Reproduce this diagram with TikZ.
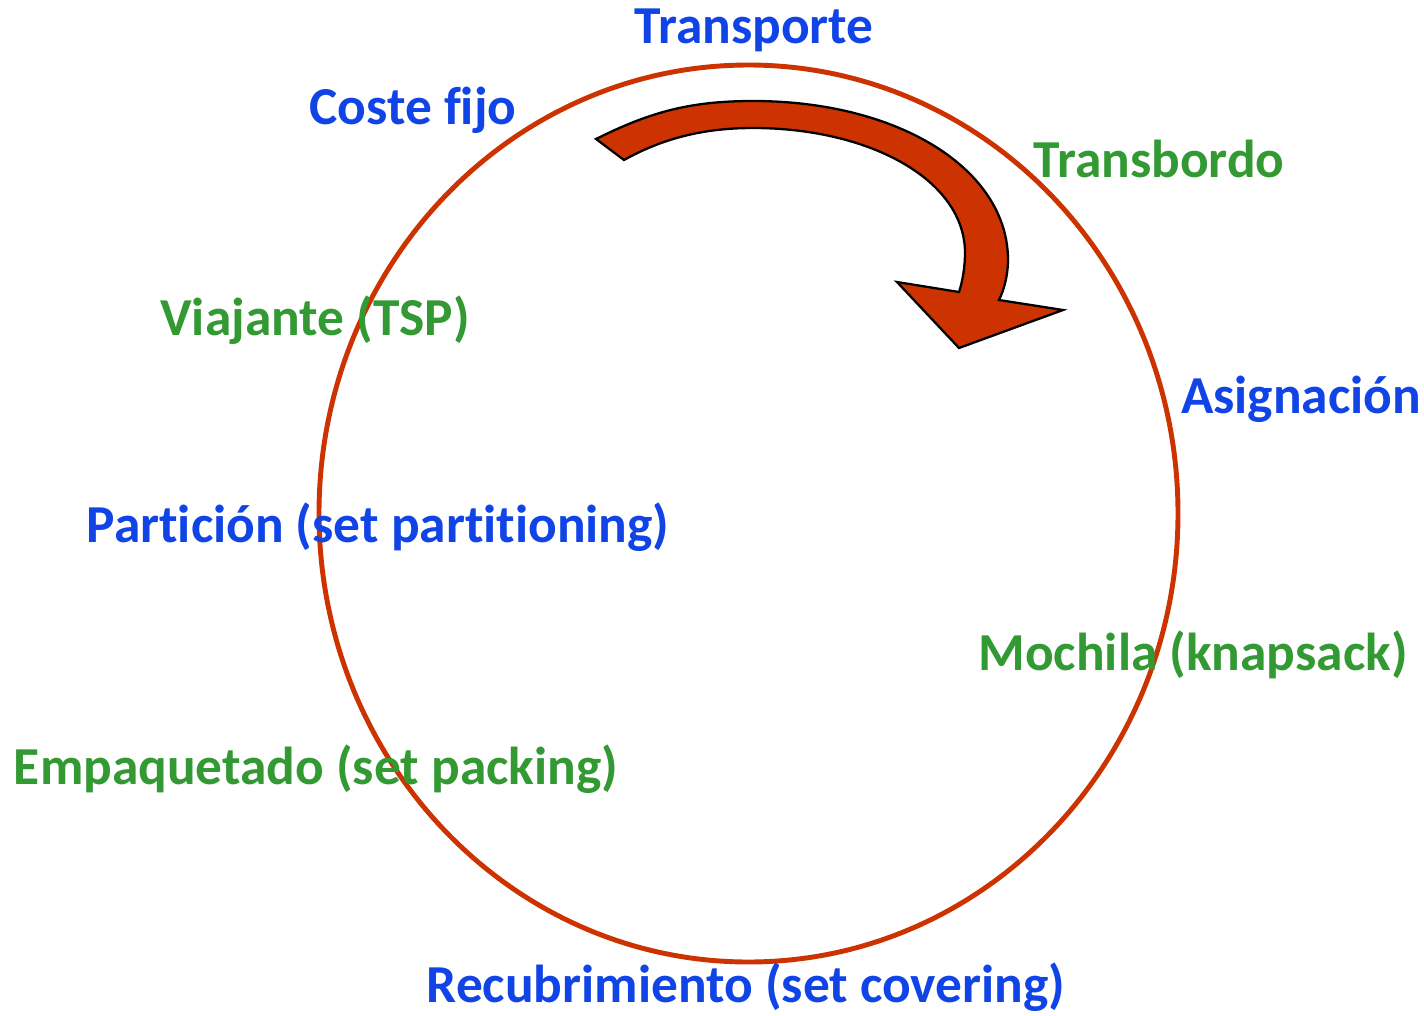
\documentclass[tikz,border=0pt]{standalone}
\usepackage{fontspec}
\setmainfont[Ligatures={NoCommon}]{Carlito}
\definecolor{azul}{RGB}{16,68,230}
\definecolor{verde}{RGB}{51,153,51}
\definecolor{rojo}{RGB}{204,51,0}
\tikzset{
  azuldo/.style={text=azul, inner sep=0pt, font=\fontsize{30.4}{32}\selectfont\bfseries},
  verdedo/.style={text=verde, inner sep=0pt, font=\fontsize{30.4}{32}\selectfont\bfseries}
}
\begin{document}
\begin{tikzpicture}[x=0.02cm, y=-0.02cm]
\useasboundingbox (0,0) rectangle (1424,1015);
\draw[rojo, line width=2.8pt] (748.5,513.5) ellipse [x radius=429.5, y radius=448.5];

\path[draw=black, line width=1.3pt, fill=rojo] (596,139) .. controls (650,112) and (690,101) .. (753,101)
  .. controls (900,101) and (1008,170) .. (1008,260)
  .. controls (1008,275) and (1004,290) .. (999,300)
  -- (1063,310) -- (959,348) -- (897,282) -- (959,292)
  .. controls (963,280) and (965,265) .. (965,253)
  .. controls (965,180) and (870,128) .. (753,128)
  .. controls (700,128) and (660,140) .. (624,160) -- cycle;

\node[azuldo] (transporte) at (754,30) {Transporte};
\node[azuldo] (coste) at (413,110) {Coste fijo};
\node[verdedo] (transbordo) at (1159,159) {Transbordo};
\node[verdedo] (viajante) at (315,320) {Viajante (TSP)};
\node[azuldo] (asignacion) at (1301,399) {Asignación};
\node[azuldo] (particion) at (378,527) {Partición (set partitioning)};
\node[verdedo] (mochila) at (1193,655) {Mochila (knapsack)};
\node[verdedo] (empaquetado) at (316,769) {Empaquetado (set packing)};
\node[azuldo] (recubrimiento) at (746,987) {Recubrimiento (set covering)};
\end{tikzpicture}
\end{document}
